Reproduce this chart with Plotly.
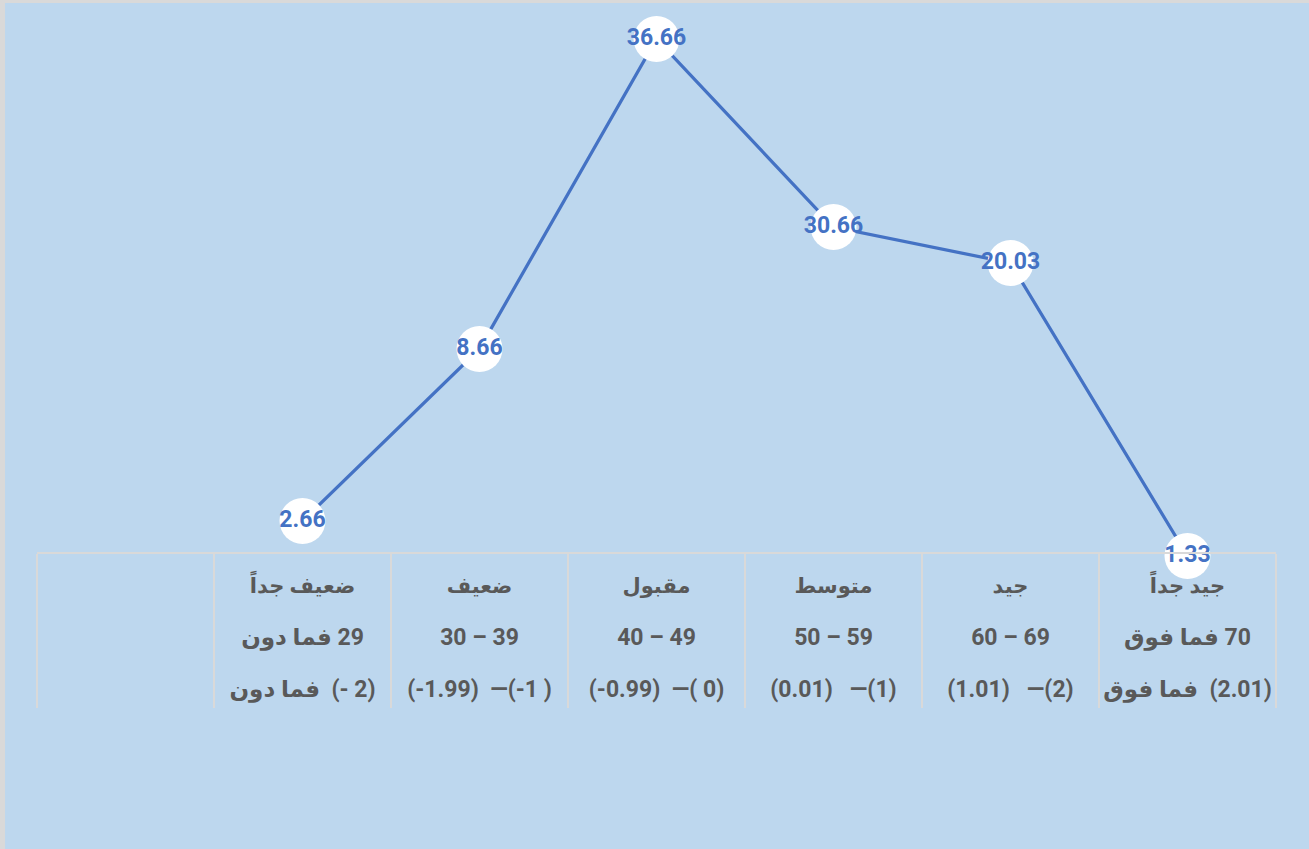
import plotly.graph_objects as go

# ---------------- data ----------------
LRM = "\u200e"
categories = ["", "ضعيف جداً", "ضعيف", "مقبول", "متوسط", "جيد", "جيد جداً"]
score_ranges = ["", "فما دون" + LRM + " 29", "30 – 39", "40 – 49", "50 – 59", "60 – 69", "فما فوق" + LRM + " 70"]
z_ranges = ["", "فما دون" + LRM + "  (- 2)", "(-1.99)  —(-1 )", "(-0.99)  —( 0)",
            "(0.01)   —(1)", "(1.01)   —(2)", "فما فوق" + LRM + "  (2.01)"]
# percentages shown as data labels
label_values = [2.66, 8.66, 36.66, 30.66, 20.03, 1.33]
# vertical levels of the points as drawn in the picture (label units)
plotted_levels = [3.72, 15.48, 36.66, 23.81, 21.35, 1.33]

cat_keys = [" "] + categories[1:]


def row(txt, size):
    return '<span style="font-size:%dpx"><b>%s</b></span>' % (size, txt)


tick_text = [
    (row(c, 21) + "<br><br>" + row(s, 23) + "<br><br>" + row(z, 23)) if c else ""
    for c, s, z in zip(categories, score_ranges, z_ranges)
]

BLUE_BG = "#BDD7EE"
LINE = "#4472C4"
GRAY_TXT = "#595959"
GRID = "#D9D9D9"

fig = go.Figure()
fig.add_trace(go.Scatter(
    x=cat_keys[1:],
    y=plotted_levels,
    mode="lines+markers+text",
    line=dict(color=LINE, width=3.25),
    marker=dict(size=46, color="white", line=dict(width=0)),
    text=["<b>%.2f</b>" % v for v in label_values],
    textposition="middle center",
    textfont=dict(family="Roboto, DejaVu Sans", size=23, color=LINE),
    cliponaxis=False,
    hoverinfo="skip",
    showlegend=False,
))

fig.update_layout(
    width=1309, height=849,
    margin=dict(l=37, r=33, t=5, b=289),
    paper_bgcolor=GRID,
    plot_bgcolor=BLUE_BG,
    font=dict(family="Roboto, DejaVu Sans", color=GRAY_TXT, size=20),
    shapes=[dict(type="rect", xref="paper", yref="paper",
                 x0=-0.0258, x1=1.06, y0=-0.6, y1=1.0036,
                 fillcolor=BLUE_BG, line=dict(width=0), layer="below")],
    xaxis=dict(
        type="category",
        categoryorder="array", categoryarray=cat_keys,
        tickvals=cat_keys, ticktext=tick_text,
        range=[-0.5, 6.5],
        anchor="free", position=0.0126,
        showgrid=False, zeroline=False,
        showline=True, linecolor=GRID, linewidth=2,
        ticks="outside", tickson="boundaries", ticklen=154,
        tickcolor=GRID, tickwidth=2,
        tickangle=0,
        ticklabelstandoff=15,
        tickfont=dict(family="Roboto, DejaVu Sans", size=20, color=GRAY_TXT),
        fixedrange=True,
    ),
    yaxis=dict(visible=False, range=[1.0567, 38.98], fixedrange=True),
)

fig.write_html(
    "out.html",
    config={"displayModeBar": False},
    post_script="document.body.style.margin='0';document.body.style.overflow='hidden';",
)
